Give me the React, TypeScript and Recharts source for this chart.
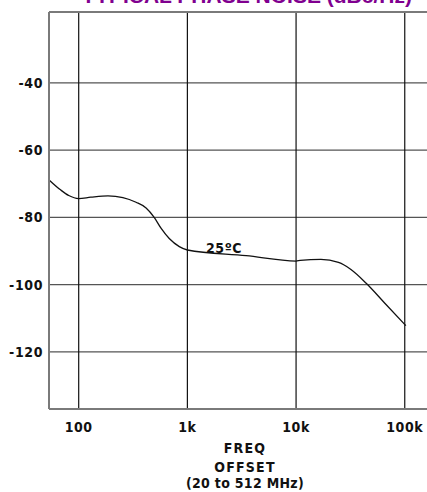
import {
  LineChart,
  Line,
  XAxis,
  YAxis,
  ReferenceLine,
  ReferenceDot,
} from "recharts";

// offset frequency (Hz) and phase noise (dBc/Hz)
const freqs = [
  54, 68, 81, 100, 129, 186, 255, 337, 417, 495, 574, 681, 843, 1000, 3467,
  10000, 10920, 16930, 24550, 31980, 44200, 65900, 102400,
];
const noise = [
  -69.0, -71.8, -73.5, -74.4, -74.0, -73.6, -74.1, -75.5, -77.2, -80.0, -83.3,
  -86.3, -88.7, -89.7, -91.4, -93.0, -92.8, -92.5, -93.4, -95.5, -99.6, -105.6,
  -112.2,
];

const xTicks = [100, 1000, 10000, 100000];
const xTickLabels = ["100", "1k", "10k", "100k"];
const yTicks = [-40, -60, -80, -100, -120];

const X_DOMAIN = [53.3, 211000];
const Y_DOMAIN = [-137, -18.9];

const data = freqs.map((f, i) => ({ f, v: noise[i] }));

const FONT = "'DejaVu Sans Condensed', 'DejaVu Sans', sans-serif";

const XTick = ({ x, payload }: any) => {
  const i = xTicks.indexOf(payload.value);
  return (
    <text
      x={x}
      y={432}
      textAnchor="middle"
      fontFamily={FONT}
      fontWeight="bold"
      fontSize={14}
      letterSpacing={0.6}
      fill="#111"
    >
      {xTickLabels[i]}
    </text>
  );
};

const YTick = ({ y, payload }: any) => (
  <text
    x={43}
    y={y + 5}
    textAnchor="end"
    fontFamily={FONT}
    fontWeight="bold"
    fontSize={14}
    letterSpacing={0.6}
    fill="#111"
  >
    {payload.value}
  </text>
);

const AxisTitle = () => (
  <g fontFamily={FONT} fontWeight="bold" fontSize={14} fill="#111" textAnchor="middle">
    <text x={245} y={453} letterSpacing={1.2}>FREQ</text>
    <text x={245} y={472} letterSpacing={1.2}>OFFSET</text>
    <text x={245} y={488} letterSpacing={0.3}>(20 to 512 MHz)</text>
  </g>
);

export default function App() {
  return (
    <div
      style={{
        position: "absolute",
        left: 0,
        top: 0,
        width: 427,
        height: 492,
        overflow: "hidden",
        background: "#fff",
      }}
    >
      <div
        style={{
          position: "absolute",
          left: 0,
          width: 494,
          top: -16,
          textAlign: "center",
          fontFamily: "'Liberation Sans', Arial, sans-serif",
          fontWeight: "bold",
          fontSize: 21,
          color: "#80008f",
          whiteSpace: "nowrap",
        }}
      >
        TYPICAL PHASE NOISE (dBc/Hz)
      </div>
      <div style={{ position: "absolute", left: 0, top: 0 }}>
        <LineChart
          width={440}
          height={492}
          data={data}
          margin={{ top: 12, right: 0, bottom: 0, left: 0 }}
        >
          <XAxis
            dataKey="f"
            type="number"
            scale="log"
            domain={X_DOMAIN}
            allowDataOverflow
            ticks={xTicks}
            height={83}
            tickLine={false}
            axisLine={{ stroke: "#7a7a7a", strokeWidth: 2 }}
            tick={<XTick />}
            label={<AxisTitle />}
          />
          <YAxis
            type="number"
            domain={Y_DOMAIN}
            allowDataOverflow
            ticks={yTicks}
            width={49}
            tickLine={false}
            axisLine={{ stroke: "#7a7a7a", strokeWidth: 2 }}
            tick={<YTick />}
          />
          {yTicks.map((t) => (
            <ReferenceLine key={t} y={t} stroke="#555" strokeWidth={1.3} />
          ))}
          {xTicks.map((t) => (
            <ReferenceLine key={t} x={t} stroke="#111" strokeWidth={1.2} />
          ))}
          <ReferenceLine y={Y_DOMAIN[1]} stroke="#7a7a7a" strokeWidth={2} />
          <Line
            type="monotone"
            dataKey="v"
            stroke="#111"
            strokeWidth={1.3}
            dot={false}
            isAnimationActive={false}
          />
          <ReferenceDot
            x={2175}
            y={-90.6}
            r={0}
            fill="none"
            stroke="none"
            label={({ viewBox }: any) => (
              <text
                x={viewBox.x}
                y={viewBox.y}
                textAnchor="middle"
                fontFamily={FONT}
                fontWeight="bold"
                fontSize={14}
                letterSpacing={0.6}
                fill="#111"
              >
                25ºC
              </text>
            )}
          />
        </LineChart>
      </div>
    </div>
  );
}
